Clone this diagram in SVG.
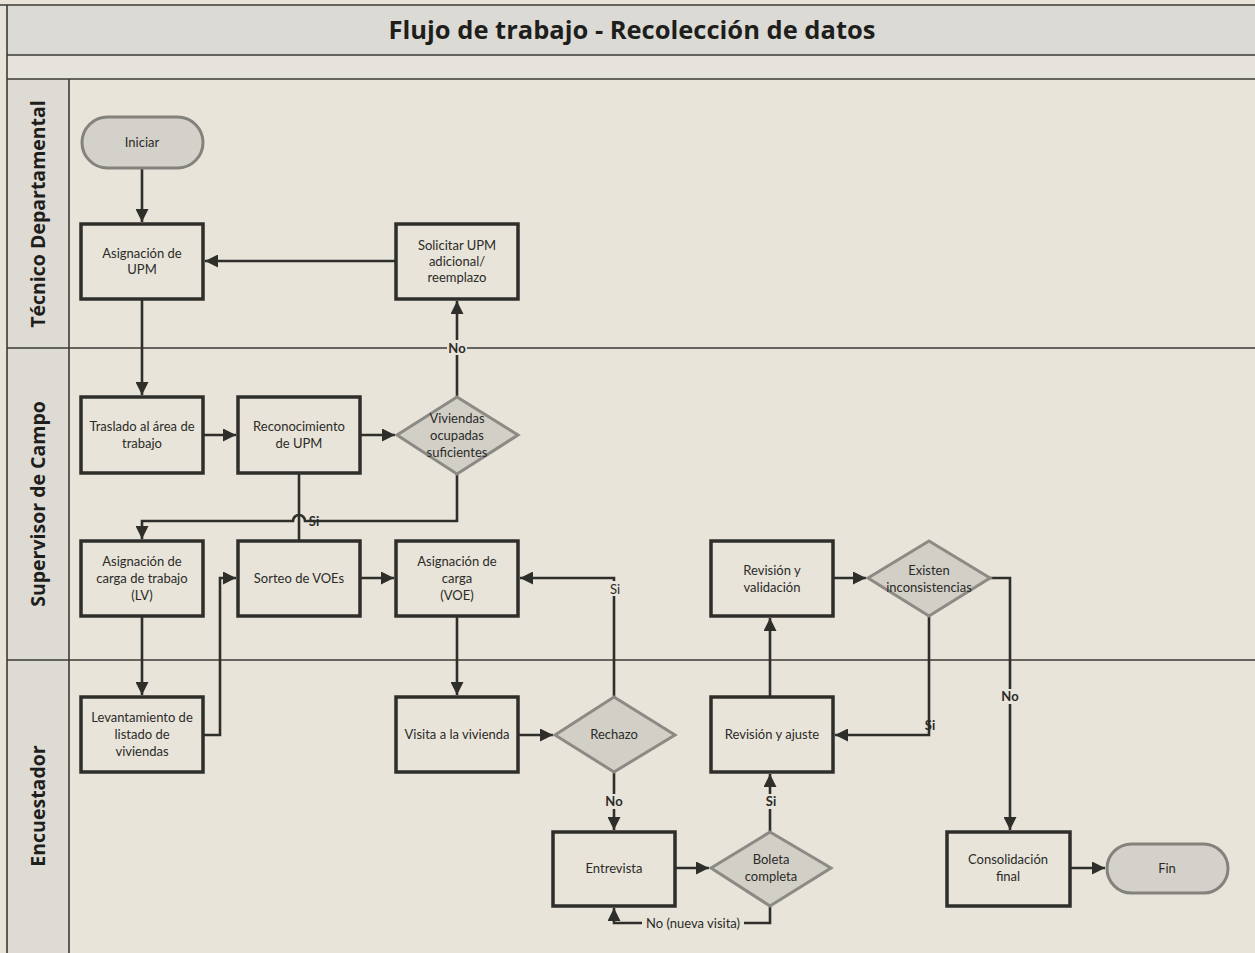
<svg xmlns="http://www.w3.org/2000/svg" width="1255" height="953" viewBox="0 0 1255 953">
<defs>
<marker id="arr" viewBox="0 0 10 10" refX="10" refY="5" markerWidth="5" markerHeight="5" orient="auto" markerUnits="strokeWidth">
<path d="M0,0 L10,5 L0,10 z" fill="#2e2e2b"/>
</marker>
</defs>
<style>
.bg{fill:#e8e4da}
.lane{stroke:#3a3a36;stroke-width:1.6;fill:none}
.box{fill:#e8e4da;stroke:#2e2e2b;stroke-width:3.5}
.dia{fill:#d2cfc7;stroke:#8c8a85;stroke-width:3}
.term{fill:#d4d1ca;stroke:#84827d;stroke-width:3}
.t{font-family:Lato,"Open Sans",sans-serif;font-size:13px;fill:#2b2b28;text-anchor:middle}
.title{font-family:"Open Sans",Lato,sans-serif;font-size:25.5px;font-weight:bold;fill:#1e1e1c;text-anchor:middle}
.ln{font-family:"Open Sans",Lato,sans-serif;font-size:19.5px;font-weight:bold;fill:#1e1e1c;text-anchor:middle}
.lbl{font-family:Lato,"Open Sans",sans-serif;font-size:13px;font-weight:bold;fill:#2b2b28;text-anchor:middle}
.lblr{font-family:Lato,"Open Sans",sans-serif;font-size:13px;fill:#2b2b28;text-anchor:middle}
.c{fill:none;stroke:#2e2e2b;stroke-width:2.6}
.ca{fill:none;stroke:#2e2e2b;stroke-width:2.6;marker-end:url(#arr)}
</style>
<rect class="bg" x="0" y="0" width="1255" height="953"/>
<g id="pool">
<rect x="7" y="5" width="1260" height="50" fill="#dcdad4"/>
<rect x="7" y="55" width="1260" height="24" fill="#e6e3dc"/>
<rect x="7" y="79" width="62" height="880" fill="#dedbd4"/>
<line class="lane" x1="0" y1="5" x2="1255" y2="5"/>
<line class="lane" x1="7" y1="55" x2="1255" y2="55"/>
<line class="lane" x1="7" y1="79" x2="1255" y2="79"/>
<line class="lane" x1="7" y1="5" x2="7" y2="953"/>
<line class="lane" x1="69" y1="79" x2="69" y2="953"/>
<line class="lane" x1="7" y1="348" x2="1255" y2="348"/>
<line class="lane" x1="7" y1="660" x2="1255" y2="660"/>
<text class="title" x="632" y="39">Flujo de trabajo - Recolección de datos</text>
<text class="ln" transform="translate(45,214) rotate(-90)">Técnico Departamental</text>
<text class="ln" transform="translate(45,504) rotate(-90)">Supervisor de Campo</text>
<text class="ln" transform="translate(45,806) rotate(-90)">Encuestador</text>
</g>
<g id="connectors">
<path class="ca" d="M142,168 V222"/>
<path class="ca" d="M396,261 H205"/>
<path class="ca" d="M142,299 V395"/>
<path class="ca" d="M203,435 H236"/>
<path class="ca" d="M360,435 H395"/>
<path class="ca" d="M457,397 V301"/>
<path class="c" d="M299,473 V541"/>
<path class="ca" d="M457,474 V521 H305 A6,6 0 0 0 293,521 H142 V539"/>
<path class="ca" d="M142,616 V695"/>
<path class="ca" d="M203,735 H220 V578 H236"/>
<path class="ca" d="M360,578 H394"/>
<path class="ca" d="M457,616 V695"/>
<path class="ca" d="M518,735 H553"/>
<path class="ca" d="M614,697 V578 H520"/>
<path class="ca" d="M614,772 V830"/>
<path class="ca" d="M675,868 H709"/>
<path class="ca" d="M770,906 V923 H614 V908"/>
<path class="ca" d="M770,832 V774"/>
<path class="ca" d="M770,697 V618"/>
<path class="ca" d="M833,578 H866"/>
<path class="ca" d="M929,616 V735 H835"/>
<path class="ca" d="M990,578 H1010 V830"/>
<path class="ca" d="M1070,868 H1105"/>
<rect x="447" y="340" width="20" height="15" fill="#e8e4da"/>
<text class="lbl" x="457" y="353">No</text>
<text class="lbl" x="314" y="526">Si</text>
<rect x="606" y="581" width="16" height="15" fill="#e8e4da"/>
<text class="lblr" x="615" y="594">Si</text>
<rect x="604" y="794" width="22" height="15" fill="#e8e4da"/>
<text class="lbl" x="614" y="806">No</text>
<rect x="762" y="794" width="16" height="15" fill="#e8e4da"/>
<text class="lbl" x="771" y="806">Si</text>
<rect x="1000" y="689" width="22" height="15" fill="#e8e4da"/>
<text class="lbl" x="1010" y="701">No</text>
<text class="lbl" x="930" y="730">Si</text>
<rect x="642" y="916" width="102" height="15" fill="#e8e4da"/>
<text class="lblr" x="693" y="928">No (nueva visita)</text>
</g>
<g id="n_iniciar"><rect class="term" x="82" y="117" width="121" height="51" rx="25.5"/><text class="t" x="142" y="147">Iniciar</text></g>
<g id="n_asig_upm"><rect class="box" x="81" y="224" width="122" height="75"/><text class="t" x="142" y="258">Asignación de</text><text class="t" x="142" y="274">UPM</text></g>
<g id="n_solicitar"><rect class="box" x="396" y="224" width="122" height="75"/><text class="t" x="457" y="250">Solicitar UPM</text><text class="t" x="457" y="266">adicional/</text><text class="t" x="457" y="282">reemplazo</text></g>
<g id="n_traslado"><rect class="box" x="81" y="397" width="122" height="76"/><text class="t" x="142" y="431">Traslado al área de</text><text class="t" x="142" y="448">trabajo</text></g>
<g id="n_reconoc"><rect class="box" x="238" y="397" width="122" height="76"/><text class="t" x="299" y="431">Reconocimiento</text><text class="t" x="299" y="448">de UPM</text></g>
<g id="n_viviendas"><polygon class="dia" points="457,397 518,435 457,474 397,435"/><text class="t" x="457" y="423">Viviendas</text><text class="t" x="457" y="440">ocupadas</text><text class="t" x="457" y="457">suficientes</text></g>
<g id="n_asig_lv"><rect class="box" x="81" y="541" width="122" height="75"/><text class="t" x="142" y="566">Asignación de</text><text class="t" x="142" y="583">carga de trabajo</text><text class="t" x="142" y="600">(LV)</text></g>
<g id="n_sorteo"><rect class="box" x="238" y="541" width="122" height="75"/><text class="t" x="299" y="583">Sorteo de VOEs</text></g>
<g id="n_asig_voe"><rect class="box" x="396" y="541" width="122" height="75"/><text class="t" x="457" y="566">Asignación de</text><text class="t" x="457" y="583">carga</text><text class="t" x="457" y="600">(VOE)</text></g>
<g id="n_rev_valid"><rect class="box" x="711" y="541" width="122" height="75"/><text class="t" x="772" y="575">Revisión y</text><text class="t" x="772" y="592">validación</text></g>
<g id="n_existen"><polygon class="dia" points="929,541 990,578 929,616 868,578"/><text class="t" x="929" y="575">Existen</text><text class="t" x="929" y="592">inconsistencias</text></g>
<g id="n_levant"><rect class="box" x="81" y="697" width="122" height="75"/><text class="t" x="142" y="722">Levantamiento de</text><text class="t" x="142" y="739">listado de</text><text class="t" x="142" y="756">viviendas</text></g>
<g id="n_visita"><rect class="box" x="396" y="697" width="122" height="75"/><text class="t" x="457" y="739">Visita a la vivienda</text></g>
<g id="n_rechazo"><polygon class="dia" points="614,697 675,735 614,772 555,735"/><text class="t" x="614" y="739">Rechazo</text></g>
<g id="n_rev_ajuste"><rect class="box" x="711" y="697" width="122" height="75"/><text class="t" x="772" y="739">Revisión y ajuste</text></g>
<g id="n_entrevista"><rect class="box" x="553" y="832" width="122" height="74"/><text class="t" x="614" y="873">Entrevista</text></g>
<g id="n_boleta"><polygon class="dia" points="770,832 831,868 770,906 711,868"/><text class="t" x="771" y="864">Boleta</text><text class="t" x="771" y="881">completa</text></g>
<g id="n_consol"><rect class="box" x="947" y="832" width="123" height="74"/><text class="t" x="1008" y="864">Consolidación</text><text class="t" x="1008" y="881">final</text></g>
<g id="n_fin"><rect class="term" x="1107" y="844" width="121" height="49" rx="24.5"/><text class="t" x="1167" y="873">Fin</text></g>
</svg>
